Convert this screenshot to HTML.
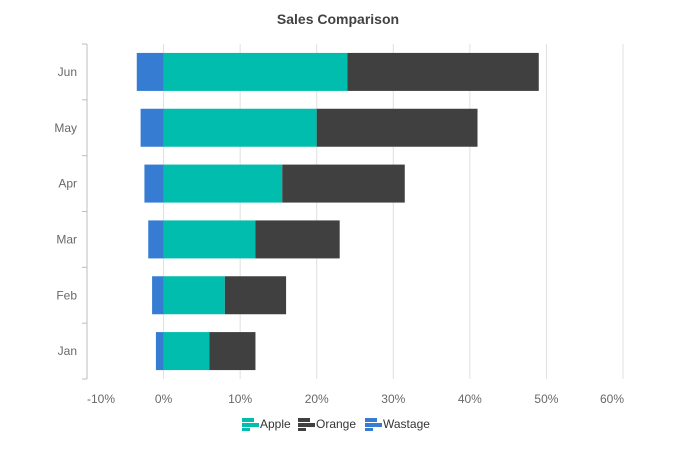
<!DOCTYPE html>
<html><head><meta charset="utf-8"><style>
body{margin:0;background:#fff;font-family:"Segoe UI","Liberation Sans",sans-serif;}
svg text{font-family:"Liberation Sans",sans-serif;}
</style></head><body>
<svg width="676" height="453">
<text x="338" y="24" text-anchor="middle" font-size="14" font-weight="bold" fill="#424242">Sales Comparison</text>
<g id="grid"></g><g id="bars"></g><g id="axes"></g>
<g font-size="12" fill="#353535">
<g><rect x="242" y="418" width="12" height="4" fill="#00bdae"/><rect x="242" y="423" width="17" height="4" fill="#00bdae"/><rect x="242" y="428" width="8" height="3" fill="#00bdae"/><text x="260" y="428">Apple</text></g>
<g><rect x="298" y="418" width="12" height="4" fill="#404041"/><rect x="298" y="423" width="17" height="4" fill="#404041"/><rect x="298" y="428" width="8" height="3" fill="#404041"/><text x="316" y="428">Orange</text></g>
<g><rect x="365" y="418" width="12" height="4" fill="#357cd2"/><rect x="365" y="423" width="17" height="4" fill="#357cd2"/><rect x="365" y="428" width="8" height="3" fill="#357cd2"/><text x="383" y="428">Wastage</text></g>
</g>
</svg>
<script>
const categories=['Jan','Feb','Mar','Apr','May','Jun'];
const apple=[6,8,12,15.5,20,24];
const orange=[6,8,11,16,21,25];
const wastage=[-1,-1.5,-2,-2.5,-3,-3.5];
const ticks=[-10,0,10,20,30,40,50,60];
const NS='http://www.w3.org/2000/svg';
const L=87,R=623,T=44,B=379;
const xs=v=>L+(v+10)/70*(R-L);
const band=(B-T)/categories.length;
const yc=i=>B-band*(i+0.5);
function mk(t,a,p){const e=document.createElementNS(NS,t);for(const k in a)e.setAttribute(k,a[k]);p.appendChild(e);return e;}
const g=document.getElementById('grid'),bars=document.getElementById('bars'),ax=document.getElementById('axes');
ticks.forEach((t,i)=>{
 if(i>0){const l=mk('line',{x1:xs(t),x2:xs(t),y1:T,y2:B,stroke:'#e0e0e0'},g);
 
 }
 const tx=mk('text',{x:i==0?xs(t)+14:(i==ticks.length-1?xs(t)-11:xs(t)),y:403,'text-anchor':'middle','font-size':12,fill:'#686868'},ax);
 tx.textContent=t+'%';
 
 
});
const al=mk('line',{x1:L,x2:L,y1:T,y2:B,stroke:'#bdbdbd'},ax);


for(let i=0;i<=categories.length;i++){const y=B-band*i;const tk=mk('line',{x1:L-5,x2:L,y1:y,y2:y,stroke:'#bdbdbd'},ax);

}
const bh=38;
categories.forEach((c,i)=>{
 const y=yc(i);
 const lb=mk('text',{x:77,y:y+4,'text-anchor':'end','font-size':12,fill:'#686868'},ax);lb.textContent=c;
 
 
 const segs=[[0,apple[i],'#00bdae','bar-apple'],[apple[i],apple[i]+orange[i],'#404041','bar-orange'],[wastage[i],0,'#357cd2','bar-wastage']];
 segs.forEach(s=>{const r=mk('rect',{x:xs(s[0]),y:y-bh/2,width:xs(s[1])-xs(s[0]),height:bh,fill:s[2]},bars);
 
 });
});
</script>
</body></html>
